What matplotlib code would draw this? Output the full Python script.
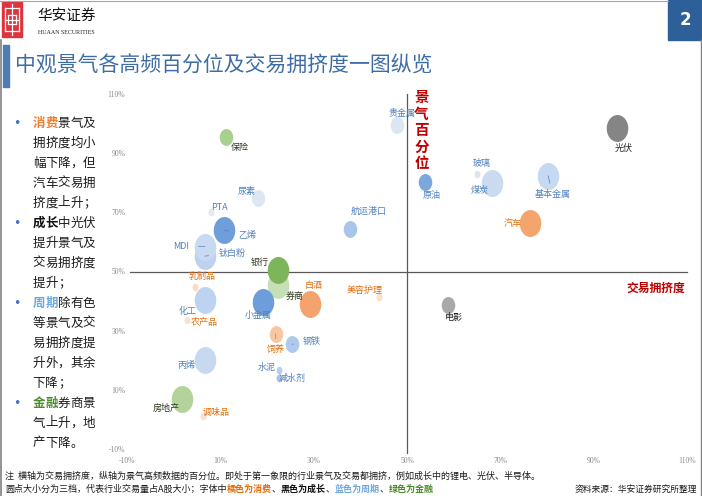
import numpy as np
import matplotlib
matplotlib.use("Agg")
import matplotlib.pyplot as plt
from matplotlib.path import Path
from matplotlib.markers import MarkerStyle
from matplotlib.patches import Rectangle

CJK = ['Noto Sans CJK SC', 'DejaVu Sans']
plt.rcParams['font.family'] = CJK

# ---- data ----
names = ['光伏', '电影',
         '保险', '券商', '银行', '房地产',
         '贵金属', '原油', '玻璃', '煤炭', '基本金属', '尿素', 'PTA', '钛白粉', 'MDI',
         '乙烯', '航运港口', '化工', '小金属', '钢铁', '丙烯', '水泥', '减水剂',
         '汽车', '白酒', '美容护理', '乳制品', '农产品', '饲养', '调味品']
group = ['成长', '成长',
         '金融', '金融', '金融', '金融',
         '周期', '周期', '周期', '周期', '周期', '周期', '周期', '周期', '周期',
         '周期', '周期', '周期', '周期', '周期', '周期', '周期', '周期',
         '消费', '消费', '消费', '消费', '消费', '消费', '消费']
# 交易拥挤度 (%)
crowding = [95.0, 58.7,
            11.1, 22.2, 22.2, 1.6,
            47.7, 53.8, 64.9, 68.2, 80.2, 18.1, 7.9, 6.6, 6.6,
            10.7, 37.7, 6.6, 19.0, 25.3, 6.6, 22.6, 22.5,
            76.3, 29.1, 44.0, 4.5, 2.8, 21.8, 6.1]
# 景气百分位 (%)
prosperity = [98.6, 38.7,
              95.6, 45.4, 50.5, 6.8,
              99.5, 80.2, 83.0, 79.8, 82.4, 74.8, 70.2, 55.2, 58.4,
              64.0, 64.3, 40.4, 39.8, 25.4, 20.1, 16.7, 13.9,
              66.3, 38.9, 41.5, 44.9, 33.6, 28.9, 1.2]
# 成交量档位 1/2/3
size_class = [3, 2,
              2, 3, 3, 3,
              2, 2, 1, 3, 3, 2, 1, 3, 3,
              3, 2, 3, 3, 2, 3, 1, 1,
              3, 3, 1, 1, 1, 2, 1]
ticks = [-10, 10, 30, 50, 70, 90, 110]

# ---- styles ----
bubble_color = {
    '光伏': '#858585', '电影': '#A9A9A9',
    '保险': '#A9D18E', '银行': '#7DB55A', '券商': '#C5E0B4', '房地产': '#B2D49A',
    '贵金属': '#DCE6F2', '原油': '#7BA7DC', '玻璃': '#DCE6F2', '煤炭': '#CADBF0',
    '基本金属': '#C5D9F1', '尿素': '#DDE7F3', 'PTA': '#E1EAF5', '钛白粉': '#BCD2EE',
    'MDI': '#C8DAF1', '乙烯': '#6F9FDA', '航运港口': '#A9C6EA', '化工': '#BDD3EF',
    '小金属': '#6D9EDB', '钢铁': '#AFC9EB', '丙烯': '#C6D9F1', '水泥': '#B8D0ED',
    '减水剂': '#A9C6EA',
    '汽车': '#F4A56E', '白酒': '#F2A36E', '美容护理': '#FBE0CC', '乳制品': '#FBDCC6',
    '农产品': '#FBE0CC', '饲养': '#F8C7A2', '调味品': '#FBE0CC',
}
label_color = {'成长': '#262626', '金融': '#2F3B23', '周期': '#4F81BD', '消费': '#E36C09'}
size_pt = {1: 5.4, 2: 12.2, 3: 19.4}
# label offset in pixels (dx right, dy down), leader line flag
label_pos = {
    '保险': (14, 11, False), '尿素': (-12, -7, False), 'PTA': (9, -4, False),
    '乙烯': (23, 5, True), 'MDI': (-24, 0, True), '钛白粉': (27, -3, True),
    '航运港口': (19, -18, False), '贵金属': (5, -12, False), '银行': (-18, -8, False),
    '光伏': (6, 21, False), '原油': (7, 13, False), '玻璃': (5, -10, False),
    '煤炭': (-13, 7, False), '基本金属': (4, 19, True), '汽车': (-17, 0, False),
    '券商': (17, 11, False), '乳制品': (7, -10, False), '化工': (-17, 12, False),
    '农产品': (17, 2, False), '小金属': (-4, 14, False), '白酒': (4, -19, False),
    '美容护理': (-15, -6, False), '饲养': (0, 16, True), '钢铁': (20, -3, True),
    '丙烯': (-18, 6, False), '水泥': (-13, -3, False), '减水剂': (13, 0, False),
    '房地产': (-15, 9, False), '调味品': (14, -3, False), '电影': (6, 13, False),
}

# slightly tall ellipse marker (the slide is stretched vertically)
circ = Path.unit_circle()
ell = MarkerStyle(Path(circ.vertices * np.array([0.8, 1.0]), circ.codes))

fig = plt.figure(figsize=(7.02, 4.96), dpi=100)

# ---- page decoration, pixel coordinates ----
bg = fig.add_axes([0, 0, 1, 1])
bg.set_xlim(0, 702)
bg.set_ylim(496, 0)
bg.axis('off')

bg.plot([0, 668], [1, 1], color='#A6A6A6', lw=0.8)
bg.plot([1, 1], [40, 496], color='#808080', lw=1.2)
bg.plot([701, 701], [40, 496], color='#808080', lw=1.0)
bg.add_patch(Rectangle((668, 0), 34, 40, color='#2D5F99'))
bg.text(685, 20, '2', color='white', fontsize=12, fontweight='bold',
        ha='center', va='center', family='DejaVu Sans')

# logo
bg.add_patch(Rectangle((2, 2), 20, 35, color='#DD3440'))
for xs, ys in [([5, 19], [8, 8]), ([5, 19], [31, 31]), ([5, 5], [8, 31]), ([19, 19], [8, 31]),
               ([8, 16], [15, 15]), ([8, 16], [24, 24]), ([8, 8], [15, 24]), ([16, 16], [15, 24]),
               ([12, 12], [4, 35]), ([5, 19], [19.5, 19.5])]:
    bg.plot(xs, ys, color='white', lw=0.9)
bg.text(37, 16, '华安证券', fontsize=10.5, ha='left', va='center', color='#111111')
bg.text(38, 32, 'HUAAN SECURITIES', fontsize=4.3, ha='left', va='center',
        family='Liberation Serif', color='#222222')

# title
bg.add_patch(Rectangle((3, 45), 6, 42, color='#4E7DB6'))
bg.text(15, 66, '中观景气各高频百分位及交易拥挤度一图纵览', fontsize=15,
        color='#3E6DA6', ha='left', va='center')

# left commentary, fixed pitch like the slide
side_lines = [
    [('消费', '#F08030', 'bold'), ('景气及', '#1A1A1A', 'normal')],
    [('拥挤度均小', '#1A1A1A', 'normal')],
    [('幅下降，但', '#1A1A1A', 'normal')],
    [('汽车交易拥', '#1A1A1A', 'normal')],
    [('挤度上升；', '#1A1A1A', 'normal')],
    [('成长', '#111111', 'bold'), ('中光伏', '#1A1A1A', 'normal')],
    [('提升景气及', '#1A1A1A', 'normal')],
    [('交易拥挤度', '#1A1A1A', 'normal')],
    [('提升；', '#1A1A1A', 'normal')],
    [('周期', '#6FA8DC', 'bold'), ('除有色', '#1A1A1A', 'normal')],
    [('等景气及交', '#1A1A1A', 'normal')],
    [('易拥挤度提', '#1A1A1A', 'normal')],
    [('升外，其余', '#1A1A1A', 'normal')],
    [('下降；', '#1A1A1A', 'normal')],
    [('金融', '#4E8A2E', 'bold'), ('券商景', '#1A1A1A', 'normal')],
    [('气上升，地', '#1A1A1A', 'normal')],
    [('产下降。', '#1A1A1A', 'normal')],
]
bullet_rows = [0, 5, 9, 14]
for i, segs in enumerate(side_lines):
    y = 123 + 20 * i
    if i in bullet_rows:
        bg.text(17, y, '•', color='#4472C4', fontsize=9, ha='center', va='center',
                family='DejaVu Sans')
    k = 0
    for txt, col, wt in segs:
        for ch in txt:
            bg.text(39 + 12.5 * k, y, ch, color=col, fontweight=wt, fontsize=9,
                    ha='center', va='center')
            k += 1

# axis titles
for i, ch in enumerate('景气百分位'):
    bg.text(421.5, 97 + 16.5 * i, ch, color='#C00000', fontsize=10.5, fontweight='bold',
            ha='center', va='center')
bg.text(656, 288, '交易拥挤度', color='#C00000', fontsize=8.5, fontweight='bold',
        ha='center', va='center')

# footer
bg.text(5, 476, '注  横轴为交易拥挤度，纵轴为景气高频数据的百分位。即处于第一象限的行业景气及交易都拥挤，例如成长中的锂电、光伏、半导体。',
        fontsize=6.5, color='#1A1A1A', ha='left', va='center')
foot2 = [('圆点大小分为三档，代表行业交易量占A股大小；字体中', '#1A1A1A', 'normal'),
         ('橘色为消费', '#E46C0A', 'bold'), ('、', '#1A1A1A', 'normal'),
         ('黑色为成长', '#111111', 'bold'), ('、', '#1A1A1A', 'normal'),
         ('蓝色为周期', '#6FA8DC', 'bold'), ('、', '#1A1A1A', 'normal'),
         ('绿色为金融', '#4E8A2E', 'bold')]
prev = bg.text(5, 489, foot2[0][0], fontsize=6.5, color=foot2[0][1], ha='left', va='center')
for txt, col, wt in foot2[1:]:
    prev = bg.annotate(txt, xy=(1, 0), xycoords=prev, fontsize=6.5, color=col,
                       fontweight=wt, ha='left', va='bottom')
bg.text(697, 489, '资料来源：华安证券研究所整理', fontsize=6.3, color='#1A1A1A',
        ha='right', va='center')

# ---- the bubble chart ----
left, right, top, bottom = 127.4, 687.2, 94, 449
ax = fig.add_axes([left / 702, 1 - bottom / 496, (right - left) / 702, (bottom - top) / 496])
ax.patch.set_alpha(0)
ax.set_xlim(-10, 110)
ax.set_ylim(-10, 110)
for s in ax.spines.values():
    s.set_visible(False)
ax.set_xticks(ticks)
ax.set_yticks(ticks)
ax.set_xticklabels([f'{t}%' for t in ticks])
ax.set_yticklabels([f'{t}%' for t in ticks])
ax.tick_params(length=0, labelsize=5.5, labelcolor='#8C8C8C')
ax.tick_params(axis='x', pad=5.8)
ax.tick_params(axis='y', pad=1.5)
for lab in ax.get_xticklabels() + ax.get_yticklabels():
    lab.set_family('Liberation Serif')

ax.plot([-9.4, 110], [50, 50], color='#595959', lw=0.9, clip_on=False, zorder=2)
ax.plot([50, 50], [-11.4, 110], color='#595959', lw=0.9, clip_on=False, zorder=2)

for n, g, x, y, sc in zip(names, group, crowding, prosperity, size_class):
    ax.scatter([x], [y], s=size_pt[sc] ** 2, marker=ell, color=bubble_color[n],
               linewidths=0, zorder=3, clip_on=False)
    dx, dy, leader = label_pos[n]
    arrow = None
    if leader:
        arrow = dict(arrowstyle='-', color=label_color[g], lw=0.5,
                     shrinkA=5 if abs(dx) > 10 else 3, shrinkB=0)
    ax.annotate(n, xy=(x, y), xytext=(dx * 0.72, -dy * 0.72), textcoords='offset points',
                fontsize=6.5, color=label_color[g], ha='center', va='center',
                arrowprops=arrow, zorder=4, annotation_clip=False)

fig.savefig('out.png', dpi=100)
